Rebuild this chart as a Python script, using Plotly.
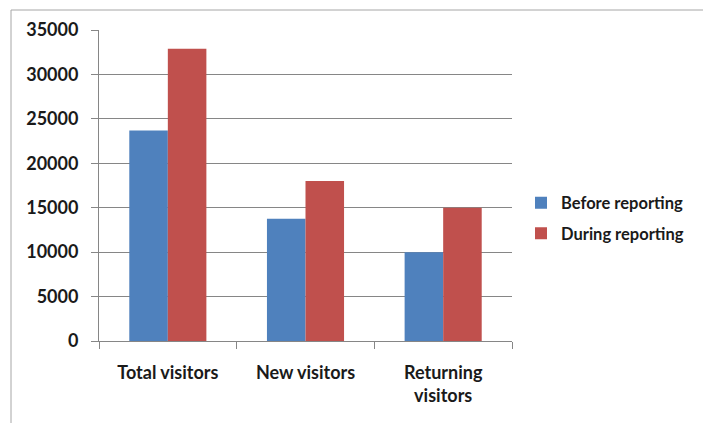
import plotly.graph_objects as go

categories = ["Total visitors", "New visitors", "Returning<br>visitors"]
before_reporting = [23700, 13750, 10000]
during_reporting = [32900, 18000, 15000]
y_ticks = [0, 5000, 10000, 15000, 20000, 25000, 30000, 35000]
y_tick_labels = ["0", "5000", "10000", "15000", "20000", "25000", "30000", "35000"]

FONT = "Lato"
W, H = 703, 423
L, R, T, B = 99, 191, 30, 82
PW = W - L - R
PH = H - T - B

fig = go.Figure()
fig.add_trace(go.Bar(x=categories, y=before_reporting, name="Before reporting",
                     marker=dict(color="#4F81BD", line=dict(width=0)),
                     legendgroup="a"))
fig.add_trace(go.Bar(x=categories, y=during_reporting, name="During reporting",
                     marker=dict(color="#C0504D", line=dict(width=0)),
                     legendgroup="b"))

def px_x(p):
    return (p - L) / PW

def px_y(p):
    return (H - B - p) / PH

fig.add_shape(type="rect", xref="paper", yref="paper",
              x0=px_x(11), x1=px_x(760), y0=px_y(480), y1=px_y(10),
              line=dict(color="#A6A6A6", width=1), fillcolor="rgba(0,0,0,0)",
              layer="below")

tickfont = dict(family=FONT, size=18, color="#1a1a1a", weight="bold")

fig.update_layout(
    width=W, height=H,
    margin=dict(l=L, r=R, t=T, b=B, pad=0, autoexpand=False),
    paper_bgcolor="white", plot_bgcolor="white",
    barmode="group", bargap=0.44, bargroupgap=0,
    font=dict(family=FONT, size=16, color="#1a1a1a"),
    showlegend=True,
    legend=dict(x=px_x(521), xanchor="left", y=px_y(218), yanchor="middle",
                font=dict(family=FONT, size=16.5, color="#1a1a1a", weight="bold"),
                traceorder="grouped", tracegroupgap=6,
                bgcolor="rgba(0,0,0,0)", itemwidth=30),
    xaxis=dict(showgrid=False, showline=True, linecolor="#868686", linewidth=1,
               ticks="outside", tickson="boundaries", ticklen=7, tickcolor="#868686",
               tickfont=tickfont, ticklabelstandoff=15),
    yaxis=dict(range=[0, 35000], tickvals=y_ticks, ticktext=y_tick_labels,
               showgrid=True, gridcolor="#868686",
               gridwidth=1, showline=True, linecolor="#868686", linewidth=1,
               ticks="outside", ticklen=7, tickcolor="#868686", zeroline=False,
               tickfont=tickfont, ticklabelstandoff=9),
)

fig.write_html("out.html")
